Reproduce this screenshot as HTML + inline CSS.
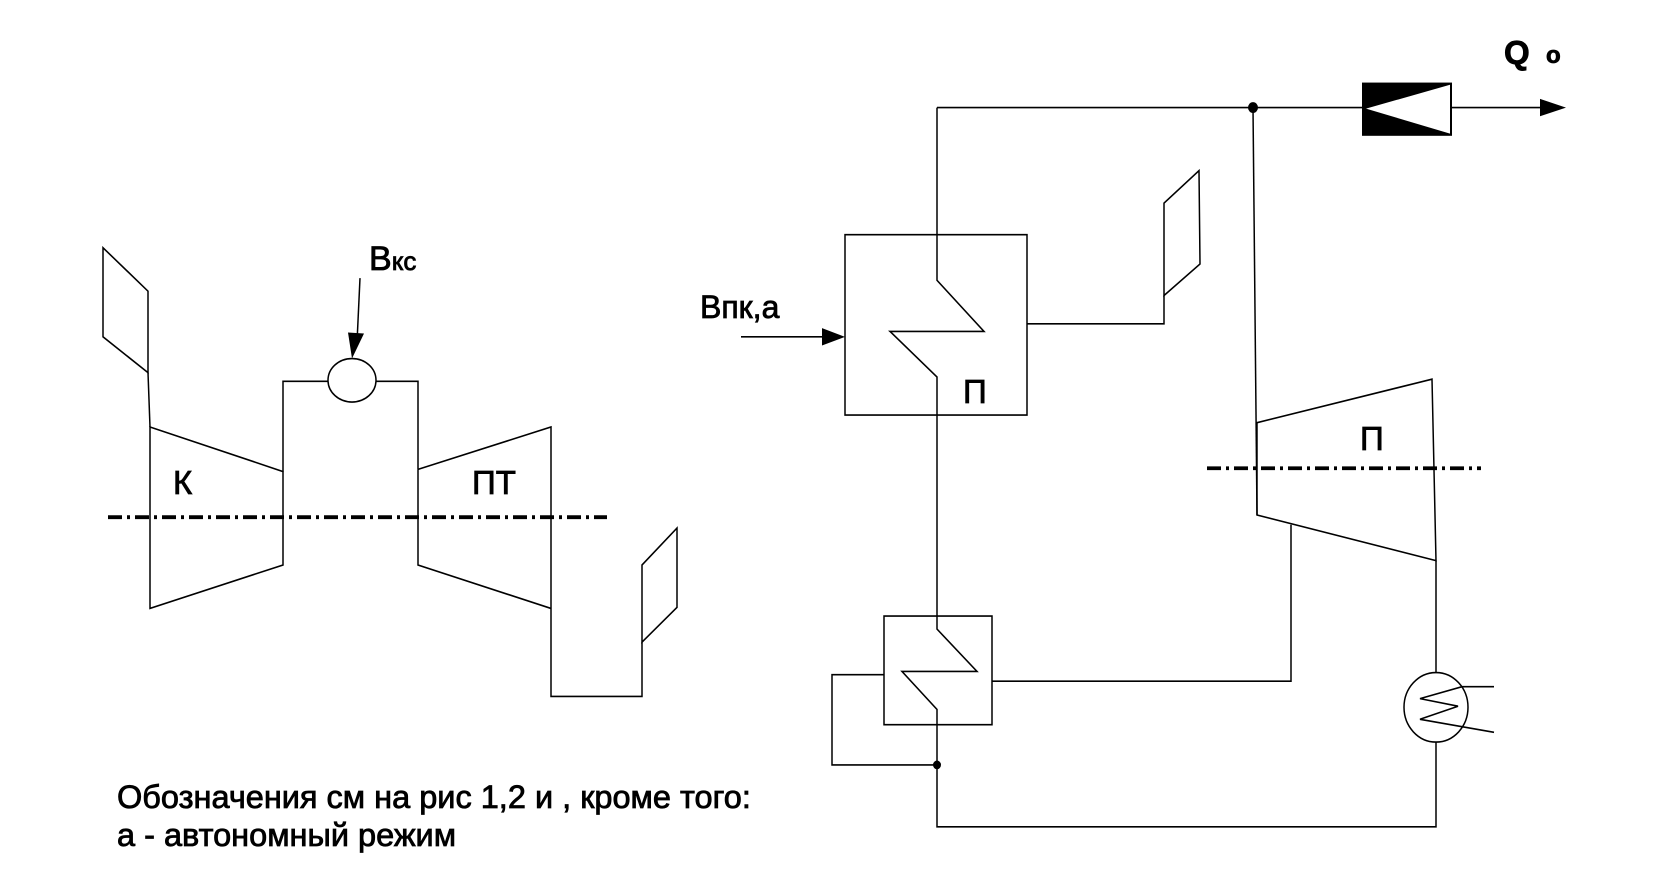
<!DOCTYPE html>
<html><head><meta charset="utf-8"><style>
html,body{margin:0;padding:0;background:#fff;}
svg{display:block;}
text{font-family:"Liberation Sans",Arial,sans-serif;fill:#000;stroke:#000;stroke-width:0.8;}
</style></head><body>
<svg width="1654" height="894" viewBox="0 0 1654 894" xmlns="http://www.w3.org/2000/svg">
<g transform="scale(1,1.0865)">
<g fill="none" stroke="#000" stroke-width="1.5">
<polygon points="103,228 148,268 148,343 103,310"/>
<line x1="148" y1="343" x2="150" y2="393"/>
<polygon points="150,393 283,434 283,520 150,560"/>
<polyline points="283,434 283,351 328,351"/>
<polyline points="376,351 418,351 418,432"/>
<ellipse cx="352" cy="350" rx="24" ry="20"/>
<polyline points="418,432 551,393 551,641 642,641 642,591"/>
<polyline points="418,432 418,520 551,560"/>
<polygon points="642,520 677,486 677,559 642,591"/>
<line x1="360" y1="256" x2="357" y2="315"/>
<line x1="741" y1="310" x2="830" y2="310"/>
<rect x="845" y="216" width="182" height="166"/>
<polyline points="937,99 937,258 984,305 890,305 937,347 937,579 977,618 902,618 937,653 937,761 1436,761 1436,683"/>
<line x1="937" y1="99" x2="1362" y2="99"/>
<line x1="1452" y1="99" x2="1545" y2="99"/>
<polyline points="1027,298 1164,298 1164,272"/>
<polygon points="1164,187 1199,157 1200,243 1164,272"/>
<line x1="1253" y1="99" x2="1257" y2="474"/>
<polygon points="1257,389 1432,349 1436,516 1257,474"/>
<polyline points="1291,483 1291,627 992,627"/>
<line x1="1436" y1="516" x2="1436" y2="619"/>
<circle cx="1436" cy="651" r="32"/>
<polyline points="1494,632 1462,632 1420,643 1458,650 1420,662 1494,674"/>
<rect x="884" y="567" width="108" height="100"/>
<polyline points="884,621 832,621 832,704 937,704"/>
</g>
<g stroke="#000" stroke-width="3.5" fill="none" stroke-dasharray="14,5,3,5">
<line x1="108" y1="476" x2="607" y2="476"/>
<line x1="1207" y1="431" x2="1481" y2="431"/>
</g>
<polygon points="352,330 348,306 364,307" fill="#000"/>
<polygon points="845,310 822,302 822,318" fill="#000"/>
<polygon points="1566,99 1540,91 1540,107" fill="#000"/>
<circle cx="1253" cy="99" r="5" fill="#000"/>
<circle cx="937" cy="704" r="4" fill="#000"/>
<rect x="1362" y="76" width="90" height="49" fill="#000"/>
<polygon points="1366,100 1450,78 1450,123" fill="#fff"/>
</g>
<text x="369" y="270" font-size="34">B<tspan font-size="26">кс</tspan></text>
<text x="700" y="318" font-size="32">Bпк,а</text>
<text x="173" y="494" font-size="33">К</text>
<text x="472" y="494" font-size="33">ПТ</text>
<text x="963" y="403" font-size="33">П</text>
<text x="1360" y="450" font-size="33">П</text>
<text x="1504" y="64" font-size="33" font-weight="bold">Q</text>
<text x="1546" y="63" font-size="24" font-weight="bold">o</text>
<text x="117" y="808" font-size="32.5">Обозначения см на рис 1,2 и , кроме того:</text>
<text x="117" y="846" font-size="32.5">а - автономный режим</text>
</svg>
</body></html>
